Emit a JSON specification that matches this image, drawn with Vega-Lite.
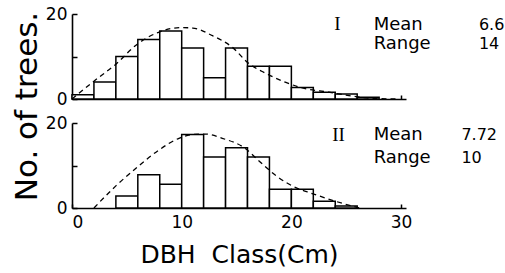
{
  "$schema": "https://vega.github.io/schema/vega-lite/v6.json",
  "background": "white",
  "padding": {"left": 10, "top": 5, "right": 0, "bottom": 0},
  "spacing": 24,
  "bounds": "flush",
  "config": {"view": {"stroke": null}},
  "datasets": {
    "bars": [
      {"panel": "I", "x0": 0, "x1": 2, "count": 1},
      {"panel": "I", "x0": 2, "x1": 4, "count": 4},
      {"panel": "I", "x0": 4, "x1": 6, "count": 10},
      {"panel": "I", "x0": 6, "x1": 8, "count": 14},
      {"panel": "I", "x0": 8, "x1": 10, "count": 16},
      {"panel": "I", "x0": 10, "x1": 12, "count": 12},
      {"panel": "I", "x0": 12, "x1": 14, "count": 5},
      {"panel": "I", "x0": 14, "x1": 16, "count": 12},
      {"panel": "I", "x0": 16, "x1": 18, "count": 7.7},
      {"panel": "I", "x0": 18, "x1": 20, "count": 7.7},
      {"panel": "I", "x0": 20, "x1": 22, "count": 2.7},
      {"panel": "I", "x0": 22, "x1": 24, "count": 1.6},
      {"panel": "I", "x0": 24, "x1": 26, "count": 1.2},
      {"panel": "I", "x0": 26, "x1": 28, "count": 0.4},
      {"panel": "II", "x0": 4, "x1": 6, "count": 2.8},
      {"panel": "II", "x0": 6, "x1": 8, "count": 7.8},
      {"panel": "II", "x0": 8, "x1": 10, "count": 5.6},
      {"panel": "II", "x0": 10, "x1": 12, "count": 17.3},
      {"panel": "II", "x0": 12, "x1": 14, "count": 12},
      {"panel": "II", "x0": 14, "x1": 16, "count": 14.2},
      {"panel": "II", "x0": 16, "x1": 18, "count": 12},
      {"panel": "II", "x0": 18, "x1": 20, "count": 4.4},
      {"panel": "II", "x0": 20, "x1": 22, "count": 4.4},
      {"panel": "II", "x0": 22, "x1": 24, "count": 1.6},
      {"panel": "II", "x0": 24, "x1": 26, "count": 0.5}
    ],
    "curve": [
      {"panel": "I", "dbh": 0, "n": 0},
      {"panel": "I", "dbh": 2, "n": 4.2},
      {"panel": "I", "dbh": 4, "n": 8.2},
      {"panel": "I", "dbh": 5.95, "n": 12.9},
      {"panel": "I", "dbh": 7.9, "n": 15.7},
      {"panel": "I", "dbh": 9.9, "n": 16.8},
      {"panel": "I", "dbh": 11, "n": 16.7},
      {"panel": "I", "dbh": 12.8, "n": 14.9},
      {"panel": "I", "dbh": 14.6, "n": 12.2},
      {"panel": "I", "dbh": 16.1, "n": 8.4},
      {"panel": "I", "dbh": 17.7, "n": 6.0},
      {"panel": "I", "dbh": 19.5, "n": 3.9},
      {"panel": "I", "dbh": 21, "n": 2.6},
      {"panel": "I", "dbh": 23.4, "n": 1.6},
      {"panel": "I", "dbh": 25.5, "n": 0.7},
      {"panel": "I", "dbh": 27.1, "n": 0.2},
      {"panel": "I", "dbh": 29.5, "n": 0},
      {"panel": "II", "dbh": 2, "n": 0},
      {"panel": "II", "dbh": 4, "n": 5.2},
      {"panel": "II", "dbh": 5.95, "n": 9.6},
      {"panel": "II", "dbh": 7.9, "n": 13.6},
      {"panel": "II", "dbh": 9.75, "n": 16.4},
      {"panel": "II", "dbh": 11, "n": 17.3},
      {"panel": "II", "dbh": 12.2, "n": 17.4},
      {"panel": "II", "dbh": 13.7, "n": 16.4},
      {"panel": "II", "dbh": 15.8, "n": 14.0},
      {"panel": "II", "dbh": 17, "n": 11.2},
      {"panel": "II", "dbh": 18.6, "n": 7.6},
      {"panel": "II", "dbh": 20.4, "n": 4.8},
      {"panel": "II", "dbh": 21.9, "n": 3.4},
      {"panel": "II", "dbh": 24, "n": 1.6},
      {"panel": "II", "dbh": 26.2, "n": 0}
    ]
  },
  "vconcat": [
    {
      "width": 334,
      "height": 85,
      "layer": [
        {
          "data": {"name": "bars"},
          "transform": [{"filter": "datum.panel === 'I'"}],
          "mark": {"type": "rect", "fill": "white", "stroke": "black", "strokeWidth": 1.5},
          "encoding": {
            "x": {"field": "x0", "type": "quantitative", "scale": {"domain": [0, 30.45], "nice": false},
              "axis": {"values": [0, 10, 20, 30], "labels": false, "title": null, "grid": false, "tickSize": -4, "tickColor": "black", "tickWidth": 1.5, "domainColor": "black", "domainWidth": 1.6}},
            "x2": {"field": "x1"},
            "y": {"field": "count", "type": "quantitative", "scale": {"domain": [0, 20], "nice": false},
              "axis": {"values": [0, 10, 20], "labelExpr": "datum.value == 10 ? '' : datum.label", "grid": false, "tickSize": -5, "tickColor": "black", "tickWidth": 1.5, "domainColor": "black", "domainWidth": 1.6, "labelPadding": 10, "labelFont": "DejaVu Sans", "labelFontSize": 17, "labelColor": "black",
                "title": "No. of trees.", "titleFont": "DejaVu Sans", "titleFontSize": 31, "titleFontWeight": "normal", "titleColor": "black", "titleAngle": 270, "titleAlign": "center", "titleBaseline": "alphabetic", "titleX": -36, "titleY": 92}},
            "y2": {"datum": 0}
          }
        },
        {
          "data": {"name": "curve"},
          "transform": [{"filter": "datum.panel === 'I'"}],
          "mark": {"type": "line", "interpolate": "monotone", "color": "black", "strokeWidth": 1.3, "strokeDash": [5, 4]},
          "encoding": {
            "x": {"field": "dbh", "type": "quantitative"},
            "y": {"field": "n", "type": "quantitative"}
          }
        },
        {
          "data": {"values": [{}]},
          "mark": {"type": "text", "text": "I", "font": "Liberation Serif", "fontSize": 19, "align": "center", "baseline": "middle", "color": "black"},
          "encoding": {"x": {"datum": 24.2}, "y": {"datum": 17.6}}
        },
        {
          "data": {"values": [{}]},
          "mark": {"type": "text", "text": ["Mean", "Range"], "font": "DejaVu Sans", "fontSize": 18, "lineHeight": 19, "align": "left", "baseline": "alphabetic", "color": "black"},
          "encoding": {"x": {"datum": 27.5}, "y": {"datum": 16.35}}
        },
        {
          "data": {"values": [{}]},
          "mark": {"type": "text", "text": ["6.6", "14"], "font": "DejaVu Sans", "fontSize": 16, "lineHeight": 19, "align": "left", "baseline": "alphabetic", "color": "black"},
          "encoding": {"x": {"datum": 37.1}, "y": {"datum": 16.35}}
        }
      ]
    },
    {
      "width": 334,
      "height": 85,
      "layer": [
        {
          "data": {"name": "bars"},
          "transform": [{"filter": "datum.panel === 'II'"}],
          "mark": {"type": "rect", "fill": "white", "stroke": "black", "strokeWidth": 1.5},
          "encoding": {
            "x": {"field": "x0", "type": "quantitative", "scale": {"domain": [0, 30.45], "nice": false},
              "axis": {"values": [0, 10, 20, 30], "grid": false, "tickSize": -4, "tickColor": "black", "tickWidth": 1.5, "domainColor": "black", "domainWidth": 1.6, "labelPadding": 10, "labelFont": "DejaVu Sans", "labelFontSize": 17, "labelColor": "black",
                "title": "DBH\u00a0 Class(Cm)", "titleFont": "DejaVu Sans", "titleFontSize": 25, "titleFontWeight": "normal", "titleColor": "black", "titlePadding": 12}},
            "x2": {"field": "x1"},
            "y": {"field": "count", "type": "quantitative", "scale": {"domain": [0, 20], "nice": false},
              "axis": {"values": [0, 10, 20], "labelExpr": "datum.value == 10 ? '' : datum.label", "grid": false, "tickSize": -5, "tickColor": "black", "tickWidth": 1.5, "domainColor": "black", "domainWidth": 1.6, "labelPadding": 10, "labelFont": "DejaVu Sans", "labelFontSize": 17, "labelColor": "black", "title": null}},
            "y2": {"datum": 0}
          }
        },
        {
          "data": {"name": "curve"},
          "transform": [{"filter": "datum.panel === 'II'"}],
          "mark": {"type": "line", "interpolate": "monotone", "color": "black", "strokeWidth": 1.3, "strokeDash": [5, 4]},
          "encoding": {
            "x": {"field": "dbh", "type": "quantitative"},
            "y": {"field": "n", "type": "quantitative"}
          }
        },
        {
          "data": {"values": [{}]},
          "mark": {"type": "text", "text": "II", "font": "Liberation Serif", "fontSize": 19, "align": "center", "baseline": "middle", "color": "black"},
          "encoding": {"x": {"datum": 24.3}, "y": {"datum": 17.2}}
        },
        {
          "data": {"values": [{}]},
          "mark": {"type": "text", "text": ["Mean", "Range"], "font": "DejaVu Sans", "fontSize": 18, "lineHeight": 23, "align": "left", "baseline": "alphabetic", "color": "black"},
          "encoding": {"x": {"datum": 27.5}, "y": {"datum": 16.0}}
        },
        {
          "data": {"values": [{}]},
          "mark": {"type": "text", "text": ["7.72", "10"], "font": "DejaVu Sans", "fontSize": 16, "lineHeight": 23, "align": "left", "baseline": "alphabetic", "color": "black"},
          "encoding": {"x": {"datum": 35.5}, "y": {"datum": 16.0}}
        }
      ]
    }
  ]
}
